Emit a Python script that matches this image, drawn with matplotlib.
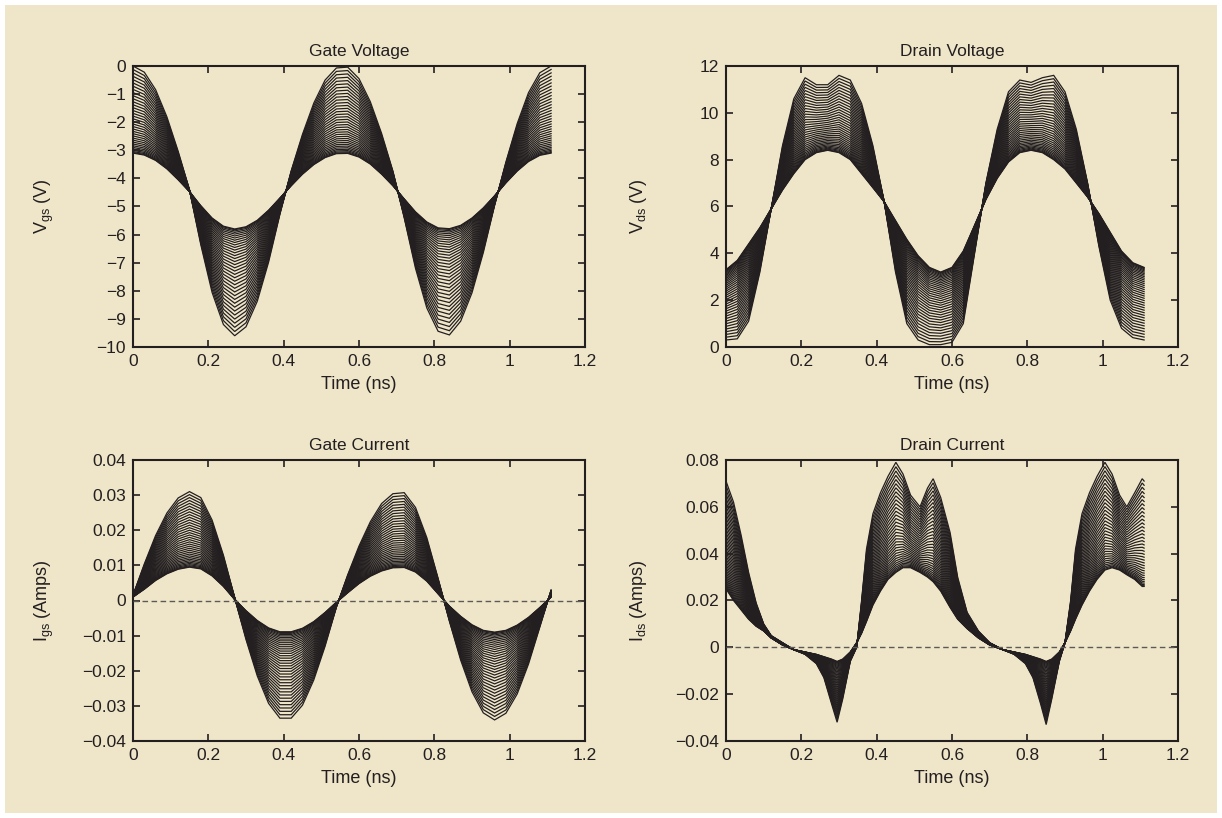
import numpy as np
import matplotlib
matplotlib.use("Agg")
from matplotlib import pyplot as plt
from matplotlib.patches import Rectangle
from matplotlib.ticker import FuncFormatter, MultipleLocator

plt.rcParams["font.family"] = ["Liberation Sans", "DejaVu Sans"]

# sample times (ns) for the three smooth waveforms
t = [0.00, 0.03, 0.06, 0.09, 0.12, 0.15, 0.18, 0.21, 0.24, 0.27,
     0.30, 0.33, 0.36, 0.39, 0.42, 0.45, 0.48, 0.51, 0.54, 0.57,
     0.60, 0.63, 0.66, 0.69, 0.72, 0.75, 0.78, 0.81, 0.84, 0.87,
     0.90, 0.93, 0.96, 0.99, 1.02, 1.05, 1.08, 1.11]

# gate voltage, highest and lowest drive
vgs_hi = [0.0, -0.22, -0.84, -1.81, -3.04, -4.41, -6.36, -8.06, -9.20, -9.60,
          -9.28, -8.37, -6.98, -5.28, -3.73, -2.43, -1.32, -0.50, -0.07, -0.04,
          -0.45, -1.27, -2.40, -3.74, -5.40, -7.20, -8.61, -9.44, -9.57, -9.08,
          -8.07, -6.64, -4.96, -3.42, -2.05, -0.95, -0.24, 0.0]
vgs_lo = [-3.10, -3.17, -3.36, -3.66, -4.05, -4.47, -4.97, -5.41, -5.70, -5.80,
          -5.72, -5.49, -5.13, -4.70, -4.26, -3.85, -3.51, -3.26, -3.12, -3.11,
          -3.24, -3.49, -3.85, -4.26, -4.73, -5.19, -5.55, -5.76, -5.79, -5.67,
          -5.41, -5.05, -4.62, -4.16, -3.74, -3.40, -3.18, -3.10]

# drain voltage
vds_hi = [0.3, 0.35, 1.1, 3.2, 5.9, 8.6, 10.6, 11.5, 11.2, 11.2,
          11.6, 11.4, 10.4, 8.6, 6.2, 3.2, 1.0, 0.3, 0.1, 0.1,
          0.2, 1.0, 4.0, 7.0, 9.3, 10.9, 11.4, 11.3, 11.5, 11.6,
          10.9, 9.3, 7.0, 4.3, 2.0, 0.8, 0.4, 0.3]
vds_lo = [3.3, 3.7, 4.4, 5.1, 5.9, 6.7, 7.4, 8.0, 8.3, 8.4,
          8.3, 8.0, 7.4, 6.8, 6.2, 5.4, 4.6, 3.9, 3.4, 3.2,
          3.4, 4.1, 5.2, 6.3, 7.2, 7.9, 8.3, 8.4, 8.3, 8.0,
          7.6, 7.0, 6.4, 5.7, 4.9, 4.1, 3.6, 3.4]

# gate current
igs_hi = [0.0015, 0.0104, 0.0185, 0.0249, 0.0292, 0.0310, 0.0293, 0.0229, 0.0129, 0.0008,
          -0.0111, -0.0215, -0.0293, -0.0335, -0.0335, -0.0298, -0.0226, -0.0130, -0.0019, 0.0073,
          0.0155, 0.0224, 0.0276, 0.0304, 0.0307, 0.0265, 0.0179, 0.0063, -0.0059, -0.0170,
          -0.0260, -0.0320, -0.0340, -0.0321, -0.0266, -0.0181, -0.0076, 0.0030]
igs_lo = [0.0010, 0.0032, 0.0057, 0.0076, 0.0089, 0.0095, 0.0090, 0.0070, 0.0040, 0.0003,
          -0.0029, -0.0057, -0.0078, -0.0089, -0.0089, -0.0079, -0.0060, -0.0034, -0.0005, 0.0022,
          0.0048, 0.0069, 0.0084, 0.0093, 0.0094, 0.0081, 0.0055, 0.0019, -0.0016, -0.0045,
          -0.0069, -0.0085, -0.0090, -0.0085, -0.0070, -0.0048, -0.0020, 0.0010]

# drain current has sharper features, so it gets its own time base
t_id = [0.000, 0.020, 0.040, 0.060, 0.080, 0.100, 0.120, 0.150, 0.180, 0.210,
        0.240, 0.260, 0.280, 0.295, 0.310, 0.330, 0.347, 0.360, 0.373, 0.390,
        0.410, 0.430, 0.451, 0.470, 0.490, 0.515, 0.535, 0.550, 0.570, 0.595,
        0.615, 0.640, 0.670, 0.700, 0.735, 0.765, 0.795, 0.815, 0.835, 0.850,
        0.865, 0.885, 0.900, 0.915, 0.928, 0.945, 0.965, 0.985, 1.006, 1.025,
        1.045, 1.064, 1.085, 1.105, 1.110]
ids_hi = [0.071, 0.062, 0.048, 0.032, 0.019, 0.010, 0.005, 0.002, -0.001, -0.003,
          -0.007, -0.013, -0.024, -0.032, -0.022, -0.006, 0.000, 0.020, 0.042, 0.057,
          0.066, 0.073, 0.079, 0.074, 0.065, 0.060, 0.068, 0.072, 0.064, 0.049,
          0.030, 0.015, 0.007, 0.002, -0.001, -0.003, -0.007, -0.013, -0.024, -0.033,
          -0.022, -0.006, 0.002, 0.020, 0.042, 0.057, 0.066, 0.073, 0.079, 0.074,
          0.065, 0.060, 0.066, 0.072, 0.071]
ids_lo = [0.025, 0.020, 0.016, 0.012, 0.009, 0.007, 0.004, 0.001, -0.001, -0.002,
          -0.003, -0.004, -0.005, -0.006, -0.005, -0.002, 0.002, 0.006, 0.011, 0.018,
          0.024, 0.029, 0.032, 0.034, 0.034, 0.032, 0.030, 0.028, 0.024, 0.017,
          0.012, 0.008, 0.004, 0.001, -0.001, -0.002, -0.003, -0.004, -0.005, -0.006,
          -0.005, -0.002, 0.002, 0.007, 0.012, 0.018, 0.024, 0.029, 0.033, 0.034,
          0.033, 0.031, 0.029, 0.026, 0.026]

# relative drive level of each swept curve (0 = lowest, 1 = highest)
drive = [0.0, 0.0069, 0.0182, 0.0321, 0.0480, 0.0656, 0.0847, 0.1051, 0.1267, 0.1494,
         0.1731, 0.1979, 0.2235, 0.2499, 0.2772, 0.3053, 0.3342, 0.3638, 0.3941, 0.4252,
         0.4567, 0.4891, 0.5220, 0.5555, 0.5897, 0.6244, 0.6597, 0.6955, 0.7319, 0.7687,
         0.8059, 0.8438, 0.8822, 0.9210, 0.9602, 1.0]

bg = "#efe6c9"
ink = "#231f20"

W, H = 1222, 818
fig = plt.figure(figsize=(W / 100, H / 100), dpi=100, facecolor="white")
fig.patches.append(Rectangle((5 / W, 5 / H), 1 - 10 / W, 1 - 10 / H,
                             transform=fig.transFigure, facecolor=bg,
                             edgecolor="none", zorder=-10))

def fmt(v, pos):
    s = "%g" % round(v, 6)
    return s.replace("-", "\u2212")

def panel(rect, tt, hi, lo, title, ylabel, ylim, ystep, zero_line=False):
    ax = fig.add_axes([rect[0] / W, 1 - rect[3] / H, (rect[2] - rect[0]) / W, (rect[3] - rect[1]) / H])
    ax.set_facecolor(bg)
    hi = np.array(hi)
    lo = np.array(lo)
    for f in drive:
        ax.plot(tt, lo + f * (hi - lo), color=ink, lw=0.9, solid_joinstyle="miter")
    if zero_line:
        ax.axhline(0, color="#5c5a55", lw=1.0, ls=(0, (4, 2.5)), zorder=3)
    ax.set_xlim(0, 1.2)
    ax.set_ylim(*ylim)
    ax.xaxis.set_major_locator(MultipleLocator(0.2))
    ax.yaxis.set_major_locator(MultipleLocator(ystep))
    ax.xaxis.set_major_formatter(FuncFormatter(fmt))
    ax.yaxis.set_major_formatter(FuncFormatter(fmt))
    ax.tick_params(direction="in", top=True, right=True, length=5, width=1.2,
                   labelsize=12.5, colors=ink, pad=5)
    for sp in ax.spines.values():
        sp.set_linewidth(1.5)
        sp.set_color(ink)
    ax.set_title(title, fontsize=12.5, color=ink, pad=7)
    ax.set_xlabel("Time (ns)", fontsize=13, color=ink, labelpad=5)
    ax.set_ylabel(ylabel, fontsize=13, color=ink)
    ax.yaxis.set_label_coords(-0.17, 0.5)
    return ax

panel((133, 66, 585, 347), t, vgs_hi, vgs_lo, "Gate Voltage",
      r"V$_\mathregular{gs}$ (V)", (-10, 0), 1)
panel((726, 66, 1178, 347), t, vds_hi, vds_lo, "Drain Voltage",
      r"V$_\mathregular{ds}$ (V)", (0, 12), 2)
panel((133, 460, 585, 741), t, igs_hi, igs_lo, "Gate Current",
      r"I$_\mathregular{gs}$ (Amps)", (-0.04, 0.04), 0.01, zero_line=True)
panel((726, 460, 1178, 741), t_id, ids_hi, ids_lo, "Drain Current",
      r"I$_\mathregular{ds}$ (Amps)", (-0.04, 0.08), 0.02, zero_line=True)

fig.savefig("out.png", dpi=100, facecolor="white")
